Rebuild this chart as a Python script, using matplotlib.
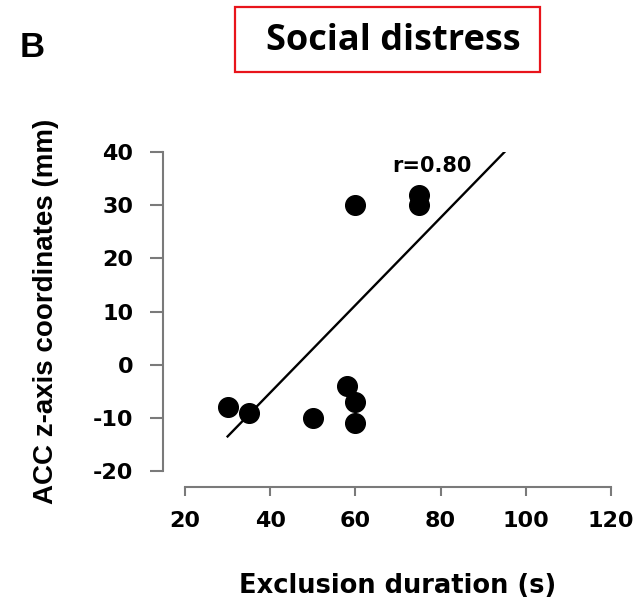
import matplotlib
matplotlib.use('Agg')
import matplotlib.pyplot as plt
from matplotlib.patches import Rectangle

plt.rcParams['axes.unicode_minus'] = False

# exclusion duration (s) vs ACC z coordinate (mm)
duration = [30, 35, 50, 58, 60, 60, 60, 75, 75]
acc_z = [-8, -9, -10, -4, -7, -11, 30, 32, 30]

# regression line as drawn in the figure
fit_x = [30, 95]
fit_y = [-13.5, 40]

x_ticks = [20, 40, 60, 80, 100, 120]
y_ticks = [-20, -10, 0, 10, 20, 30, 40]

grey = '#7a7a7a'

fig = plt.figure(figsize=(6.39, 6.04), dpi=100)
ax = fig.add_axes([185/639, 1 - 471/604, 426/639, 319/604])

ax.scatter(duration, acc_z, s=200, color='black', zorder=3)
ax.plot(fit_x, fit_y, color='black', lw=1.7)
ax.text(68.6, 36.2, 'r=0.80', fontsize=15, fontweight='bold',
        family='DejaVu Sans', ha='left', va='baseline')

ax.set_xlim(20, 120)
ax.set_ylim(-20, 40)
ax.set_xticks(x_ticks)
ax.set_yticks(y_ticks)

for side in ['top', 'right']:
    ax.spines[side].set_visible(False)
ax.spines['left'].set_position(('outward', 15.8))
ax.spines['bottom'].set_position(('outward', 11.5))
ax.spines['left'].set_bounds(-20, 40)
ax.spines['bottom'].set_bounds(20, 120)
for side in ['left', 'bottom']:
    ax.spines[side].set_color(grey)
    ax.spines[side].set_linewidth(1.5)

ax.tick_params(axis='y', length=9.4, width=1.5, color=grey, pad=12)
ax.tick_params(axis='x', length=6.5, width=1.5, color=grey, pad=11)
for lab in ax.get_xticklabels() + ax.get_yticklabels():
    lab.set_fontsize(16)
    lab.set_fontweight('bold')
    lab.set_family('DejaVu Sans')

ax.set_xlabel('Exclusion duration (s)', fontsize=18.5, fontweight='bold',
              family='DejaVu Sans', labelpad=30)
ax.set_ylabel('ACC z-axis coordinates (mm)', fontsize=20, fontweight='bold',
              family='Liberation Sans', labelpad=24)

fig.text(20/639, 1 - 57/604, 'B', fontsize=25, fontweight='bold',
         family='Liberation Sans', ha='left', va='baseline')

fig.patches.append(Rectangle((235/639, 1 - 72/604), 305/639, 65/604,
                             transform=fig.transFigure, fill=False,
                             edgecolor='#e8141b', lw=1.6))
fig.text(393/639, 1 - 41/604, 'Social distress', fontsize=26, fontweight='bold',
         family='Open Sans', ha='center', va='center')

fig.savefig('out.png', dpi=100)
